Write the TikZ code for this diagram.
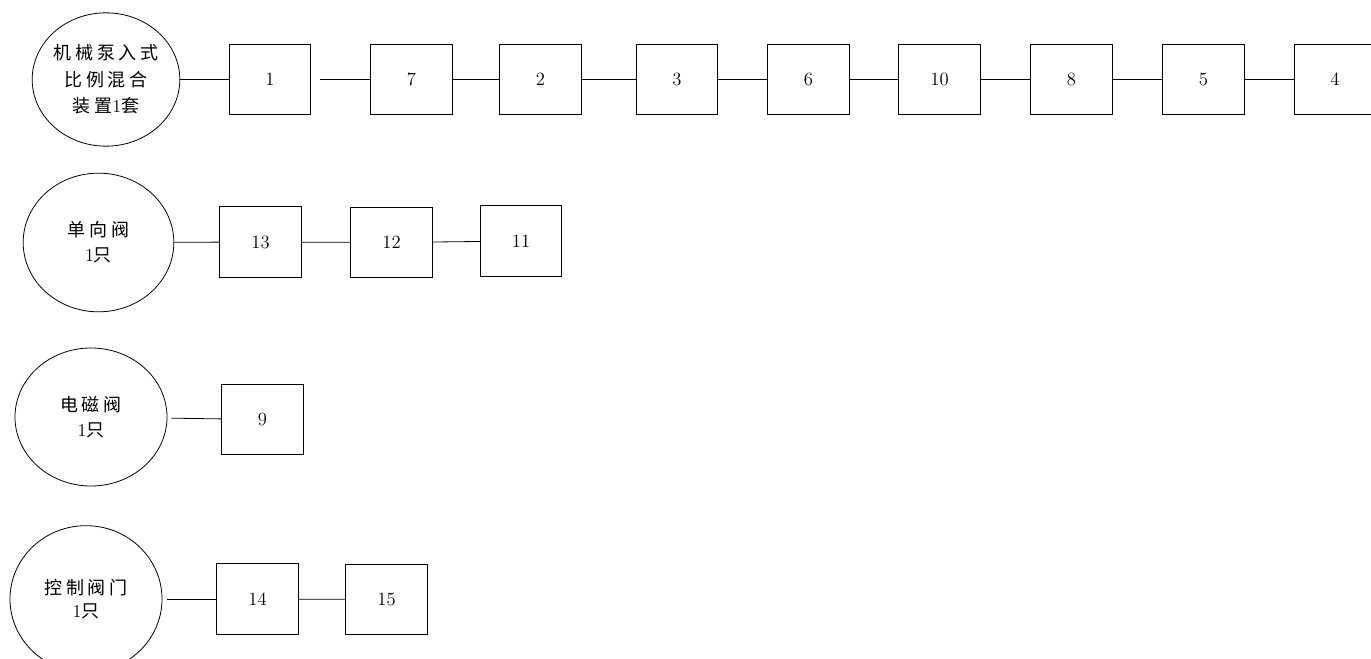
\documentclass[tikz,border=0pt]{standalone}
\usepackage{fontspec}
\newfontfamily\cjk[LetterSpace=20]{Noto Sans CJK SC}
\newcommand{\zh}[1]{{\cjk #1}}
\usetikzlibrary{shapes.geometric}
\tikzset{
	part/.style = {draw, minimum width = 61pt, minimum height = 53pt, inner sep = 0pt, font = \fontsize{14}{14}\selectfont},
	unit/.style = {draw, ellipse, inner sep = 0pt, align = center, font = \fontsize{13.5}{19}\selectfont}
}

\begin{document}
\begin{tikzpicture}[x = 0.75pt, y = -0.75pt, line width = 0.6pt]
	\useasboundingbox (0,0) rectangle (1371,659);
	\clip (0,0) rectangle (1371,659);
	% mixing device and its parts
	\node [unit, minimum width = 110pt, minimum height = 100pt, font = \fontsize{13.5}{20}\selectfont] (mixer) at (106,79.5) {\zh{机械泵入式}\\\zh{比例混合}\\\zh{装置}1\zh{套}};
	\foreach \n/\x in {1/270, 7/411.5, 2/540.5, 3/677, 6/808.5, 10/939.5, 8/1071.5, 5/1203.5, 4/1335}
		\node [part] (p\n) at (\x,79.5) {\n};
	\draw (mixer) -- (p1);
	\draw [shorten <= 6.75pt] (p1) -- (p7);
	\foreach \a/\b in {7/2, 2/3, 3/6, 6/10, 10/8, 8/5, 5/4}
		\draw (p\a) -- (p\b);
	% check valve
	\node [unit, minimum width = 113pt, minimum height = 104pt] (check) at (98.5,242.5) {\zh{单向阀}\\1\zh{只}};
	\node [part] (p13) at (260.5,242) {13};
	\node [part] (p12) at (391.5,242.5) {12};
	\node [part] (p11) at (521,241) {11};
	\draw (check) -- (p13);
	\draw (p13) -- (p12);
	\draw (p12) -- (p11);
	% solenoid valve
	\node [unit, minimum width = 114pt, minimum height = 103.5pt] (solenoid) at (91,417) {\zh{电磁阀}\\1\zh{只}};
	\node [part] (p9) at (262.5,419.5) {9};
	\draw [shorten <= 3pt] (solenoid) -- (p9);
	% control valve
	\node [unit, minimum width = 114pt, minimum height = 110pt, font = \fontsize{13.5}{17}\selectfont] (control) at (86,599) {\zh{控制阀门}\\1\zh{只}};
	\node [part] (p14) at (257.5,599) {14};
	\node [part] (p15) at (386.5,599.5) {15};
	\draw [shorten <= 3.5pt] (control) -- (p14);
	\draw (p14) -- (p15);
\end{tikzpicture}
\end{document}
